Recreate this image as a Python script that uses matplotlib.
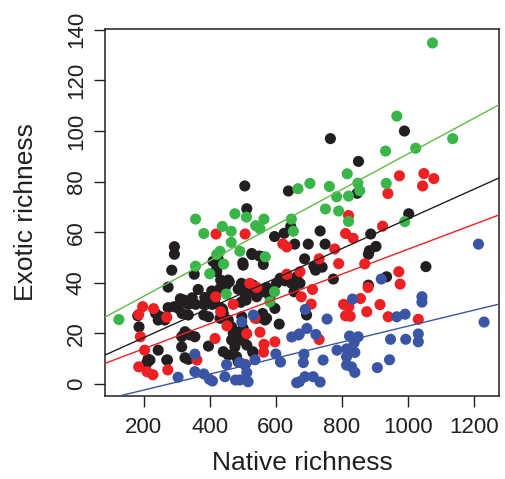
import matplotlib
matplotlib.use("Agg")
import matplotlib.pyplot as plt

# ---------------- data ----------------
green_x = [125, 357, 382, 438, 465, 476, 465, 431, 421, 442, 357, 491, 511,
           667, 703, 762, 816, 848, 854, 784, 820, 750, 790, 820, 647, 653,
           564, 539, 552, 568, 932, 1023, 1135, 934, 990, 1074, 966, 596,
           582, 400, 450]
green_y = [25.5, 65.2, 59.5, 62.3, 60.4, 67.3, 56.0, 52.5, 51.2, 47.4, 46.6,
           52.5, 66.0, 77.2, 79.3, 78.1, 83.1, 79.4, 76.4, 74.0, 74.3, 69.2,
           68.4, 64.3, 65.2, 60.4, 65.2, 62.6, 61.4, 50.3, 92.1, 93.2, 97.0,
           79.3, 64.2, 134.8, 105.9, 36.5, 32.5, 43.6, 35.6]

black_x = [765, 989, 850, 846, 506, 638, 512, 1002, 645, 734, 596, 625, 887,
           657, 698, 749, 903, 883, 880, 293, 293, 528, 558, 562, 500, 687,
           715, 720, 740, 410, 425, 421, 501, 285, 421, 353, 274, 311, 322,
           347, 365, 385, 381, 357, 335, 406, 416, 408, 436, 456, 450, 486,
           494, 274, 293, 305, 252, 264, 244, 182, 186, 236, 316, 335, 382,
           396, 416, 431, 439, 459, 433, 527, 550, 496, 500, 507, 510, 527,
           542, 572, 602, 618, 628, 648, 663, 655, 592, 582, 441, 456, 431,
           466, 471, 466, 476, 441, 456, 481, 486, 530, 567, 572, 610, 560,
           396, 315, 335, 270, 244, 219, 209, 315, 340, 355, 325, 512, 503,
           491, 774, 673, 880, 935, 1054, 693, 531, 562, 613, 542, 597, 497,
           542, 501, 491, 531, 213, 272, 325]
black_y = [97.0, 100.0, 88.0, 75.4, 78.3, 76.3, 69.3, 67.3, 62.3, 60.5, 58.3,
           59.6, 59.3, 55.3, 55.3, 55.3, 54.4, 52.7, 51.3, 54.3, 51.3, 51.2,
           50.3, 47.3, 47.9, 49.5, 46.6, 45.0, 46.2, 48.5, 49.5, 45.7, 47.0,
           45.0, 44.4, 43.4, 38.3, 33.7, 33.2, 34.1, 37.4, 34.2, 31.5, 31.5,
           31.5, 36.8, 34.1, 31.5, 29.9, 41.1, 39.1, 37.5, 32.3, 30.2, 30.6,
           29.9, 26.6, 25.3, 25.3, 27.0, 22.6, 28.0, 27.9, 27.3, 27.3, 26.6,
           31.9, 37.8, 29.5, 40.4, 41.1, 51.6, 50.6, 39.8, 37.4, 34.5, 33.2,
           36.5, 37.8, 38.2, 39.8, 41.8, 40.8, 39.8, 42.4, 36.5, 37.2, 34.5,
           27.9, 25.3, 26.0, 22.6, 20.0, 17.4, 14.7, 12.8, 11.5, 10.8, 8.8,
           12.8, 25.3, 26.0, 23.7, 27.9, 15.0, 14.7, 9.8, 9.5, 13.4, 9.5, 8.2,
           18.7, 19.4, 18.7, 20.7, 15.4, 18.7, 20.7, 41.5, 39.8, 39.1, 42.4,
           46.4, 27.3, 39.1, 36.5, 41.8, 34.5, 29.9, 26.6, 26.0, 22.0, 17.4,
           12.5, 9.8, 9.5, 10.4]

red_x = [419, 507, 974, 1048, 1078, 1044, 939, 923, 972, 976, 915, 940,
         1031, 879, 820, 811, 834, 778, 790, 869, 731, 673, 711, 677, 707,
         856, 805, 821, 811, 825, 875, 731, 621, 633, 521, 542, 418, 471,
         433, 197, 185, 230, 270, 452, 416, 512, 552, 564, 563, 597, 190,
         203, 361, 507, 185, 210, 228, 273, 633, 537]
red_y = [59.3, 59.3, 82.3, 83.2, 81.2, 78.3, 75.3, 62.4, 44.4, 39.5, 31.4,
         26.6, 25.6, 38.2, 66.6, 59.5, 57.6, 53.4, 47.6, 47.5, 49.5, 44.4,
         37.4, 34.5, 31.6, 33.8, 31.5, 30.6, 27.0, 26.8, 28.6, 17.6, 55.4,
         54.2, 39.8, 38.2, 34.5, 31.5, 28.6, 30.6, 27.5, 29.8, 26.4, 23.0,
         18.0, 19.9, 20.5, 15.7, 12.6, 16.7, 18.7, 13.4, 9.5, 7.8, 6.8, 4.9,
         3.7, 5.6, 43.4, 26.0]

blue_x = [1213, 1230, 919, 832, 1042, 1042, 966, 991, 755, 694, 671, 721,
          689, 823, 849, 837, 1031, 1031, 947, 993, 785, 814, 839, 814, 685,
          743, 944, 907, 814, 829, 839, 683, 688, 713, 734, 671, 648, 600,
          614, 537, 507, 512, 516, 491, 355, 497, 532, 451, 490, 355, 382,
          399, 408, 304, 446, 478, 663, 668]
blue_y = [55.3, 24.5, 41.5, 33.6, 34.5, 32.4, 26.6, 27.6, 25.7, 22.0, 19.8,
          19.6, 29.5, 19.0, 18.7, 16.4, 19.8, 16.7, 17.7, 17.7, 13.4, 13.9,
          12.5, 10.8, 11.8, 9.5, 9.6, 6.5, 7.5, 6.8, 4.6, 8.5, 2.9, 2.9, 0.8,
          0.9, 18.6, 11.9, 8.7, 9.6, 7.5, 4.5, 0.9, 1.6, 11.8, 24.6, 27.3,
          7.7, 8.6, 4.9, 4.0, 1.9, 1.2, 2.7, 2.9, 1.6, 0.5, 19.4]

# fitted lines (intercept, slope)
fit_intercept = {"black": 6.6, "red": 4.1, "green": 20.6, "blue": -8.7}
fit_slope = {"black": 0.0587, "red": 0.0492, "green": 0.0704, "blue": 0.0316}

x_ticks = [200, 400, 600, 800, 1000, 1200]
y_ticks = [0, 20, 40, 60, 80, 100, 120, 140]
x_label = "Native richness"
y_label = "Exotic richness"

# ---------------- styling ----------------
plt.rcParams["font.family"] = ["Liberation Sans", "DejaVu Sans"]
txt = "#231F20"
pt_col = {"black": "#231F20", "red": "#ED2024", "green": "#39B54A", "blue": "#3B55A5"}
ln_col = {"black": "#231F20", "red": "#ED2024", "green": "#5DBB46", "blue": "#3B55A5"}

fig = plt.figure(figsize=(5.05, 4.79), dpi=100)
ax = fig.add_axes([0.2079, 0.1739, 0.988 - 0.2079, 0.9388 - 0.1739])

groups = [("black", black_x, black_y), ("red", red_x, red_y),
          ("blue", blue_x, blue_y), ("green", green_x, green_y)]
for name, xs, ys in groups:
    ax.scatter(xs, ys, s=64, c=pt_col[name], edgecolors="none", zorder=2)

for name in ["green", "black", "red", "blue"]:
    b0 = fit_intercept[name]
    b1 = fit_slope[name]
    ax.axline((0, b0), slope=b1, color=ln_col[name], lw=1.0, zorder=3)

ax.set_xlim(83, 1275)
ax.set_ylim(-4.6, 140.2)
ax.set_xticks(x_ticks)
ax.set_yticks(y_ticks)
ax.set_yticklabels([str(v) for v in y_ticks], rotation=90, va="center")
ax.tick_params(axis="both", direction="out", length=8, width=1.0,
               colors=txt, labelsize=16, pad=5)
ax.tick_params(axis="x", pad=7)
for sp in ax.spines.values():
    sp.set_linewidth(1.1)
    sp.set_color(txt)

ax.set_xlabel(x_label, fontsize=19, color=txt, labelpad=10)
ax.set_ylabel(y_label, fontsize=19, color=txt, labelpad=20)

fig.savefig("out.png", dpi=100)
